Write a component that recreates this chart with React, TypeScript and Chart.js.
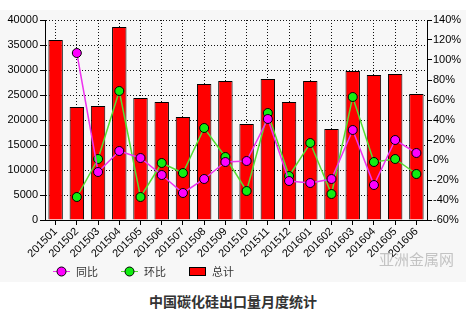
import React, { useEffect, useRef } from "react";
import { Chart, registerables } from "chart.js";

Chart.register(...registerables);

const months = [
  "201501", "201502", "201503", "201504", "201505", "201506",
  "201507", "201508", "201509", "201510", "201511", "201512",
  "201601", "201602", "201603", "201604", "201605", "201606",
];
// 总计 (tons)
const totals = [
  36000, 22600, 22800, 38600, 24400, 23600,
  20600, 27200, 27800, 19200, 28200, 23600,
  27800, 18200, 29800, 29000, 29200, 25200,
];
// 同比 (%)
const yoy = [
  null, 107, -12, 9, 2, -15,
  -33, -19, -2, -1, 41, -21,
  -23, -19, 30, -25, 20, 7,
];
// 环比 (%)
const mom = [
  null, -37, 1, 69, -37, -3,
  -13, 32, 3, -31, 47, -16,
  17, -34, 63, -2, 1, -14,
];
const leftMin = 0;
const leftMax = 40000;
const leftStep = 5000;
const rightMin = -60;
const rightMax = 140;
const rightStep = 20;

const seriesNames = ["同比", "环比", "总计"];
const chartTitle = "中国碳化硅出口量月度统计";
const watermark = "亚洲金属网";

const tickFont = { family: "'Liberation Sans', Arial, sans-serif", size: 11 };
const cjkFont = "'Noto Sans CJK SC', 'Noto Sans', sans-serif";

const legendPlugin = {
  id: "customLegend",
  afterDraw(chart: any) {
    const ctx = chart.ctx as CanvasRenderingContext2D;
    const y = chart.height - 11;
    let x = chart.chartArea.left + 8;
    chart.data.datasets.forEach((ds: any) => {
      ctx.save();
      if (ds.type === "line") {
        ctx.strokeStyle = ds.borderColor;
        ctx.lineWidth = 1;
        ctx.beginPath();
        ctx.moveTo(x, y + 0.5);
        ctx.lineTo(x + 17, y + 0.5);
        ctx.stroke();
        ctx.beginPath();
        ctx.arc(x + 8.5, y + 0.5, 4.5, 0, Math.PI * 2);
        ctx.fillStyle = ds.pointBackgroundColor;
        ctx.fill();
        ctx.strokeStyle = "#000";
        ctx.stroke();
      } else {
        ctx.fillStyle = ds.backgroundColor;
        ctx.fillRect(x, y - 4, 17, 9);
        ctx.strokeStyle = "#000";
        ctx.lineWidth = 1;
        ctx.strokeRect(x + 0.5, y - 3.5, 16, 8);
      }
      ctx.fillStyle = "#333";
      ctx.font = `11px ${cjkFont}`;
      ctx.textBaseline = "middle";
      ctx.fillText(ds.label, x + 23, y + 1);
      ctx.restore();
      x += 68;
    });
  },
};

export default function App() {
  const canvasRef = useRef<HTMLCanvasElement | null>(null);

  useEffect(() => {
    if (!canvasRef.current) return;
    const chart = new Chart(canvasRef.current, {
      type: "bar",
      data: {
        labels: months,
        datasets: [
          {
            type: "line",
            label: seriesNames[0],
            data: yoy,
            yAxisID: "y1",
            borderColor: "#ee33ee",
            borderWidth: 1.5,
            pointBackgroundColor: "#ff00ff",
            pointBorderColor: "#000",
            pointBorderWidth: 1,
            pointRadius: 4.5,
            tension: 0,
            order: 1,
          } as any,
          {
            type: "line",
            label: seriesNames[1],
            data: mom,
            yAxisID: "y1",
            borderColor: "#55dd33",
            borderWidth: 1.5,
            pointBackgroundColor: "#11ee11",
            pointBorderColor: "#000",
            pointBorderWidth: 1,
            pointRadius: 4.5,
            tension: 0,
            order: 2,
          } as any,
          {
            type: "bar",
            label: seriesNames[2],
            data: totals,
            yAxisID: "y",
            backgroundColor: "#ff0000",
            borderColor: "#000",
            borderWidth: 1,
            barPercentage: 0.68,
            categoryPercentage: 1,
            order: 3,
          } as any,
        ],
      },
      options: {
        responsive: false,
        animation: false,
        devicePixelRatio: 1,
        layout: { padding: { top: 10, left: 0, right: 0, bottom: 0 } },
        plugins: {
          legend: { display: false },
          tooltip: { enabled: false },
          title: { display: false },
        },
        scales: {
          x: {
            offset: true,
            grid: {
              offset: false,
              color: "#111",
              tickColor: "#000",
              tickLength: 5,
              tickBorderDash: [],
            } as any,
            border: { display: true, color: "#000", dash: [1, 2] },
            ticks: {
              color: "#000",
              font: tickFont,
              minRotation: 45,
              maxRotation: 45,
              padding: 0,
              autoSkip: false,
            },
            afterFit(scale: any) {
              scale.height = 62;
            },
          },
          y: {
            position: "left",
            min: leftMin,
            max: leftMax,
            grid: {
              color: "#111",
              tickColor: "#000",
              tickLength: 5,
              tickBorderDash: [],
            } as any,
            border: { display: true, color: "#000", dash: [1, 2] },
            ticks: {
              stepSize: leftStep,
              color: "#000",
              font: tickFont,
              padding: 2,
              callback: (v: any) => String(v),
            },
            afterFit(scale: any) {
              scale.width = 45;
            },
          },
          y1: {
            position: "right",
            min: rightMin,
            max: rightMax,
            grid: {
              drawOnChartArea: false,
              tickColor: "#000",
              tickLength: 5,
            },
            border: { display: true, color: "#000" },
            ticks: {
              stepSize: rightStep,
              color: "#000",
              font: tickFont,
              padding: 1,
              callback: (v: any) => `${v}%`,
            },
            afterFit(scale: any) {
              scale.width = 39;
            },
          },
        },
      },
      plugins: [legendPlugin],
    });
    return () => chart.destroy();
  }, []);

  return (
    <div
      style={{
        position: "absolute",
        left: 0,
        top: 0,
        width: 475,
        height: 318,
        background: "#fff",
        overflow: "hidden",
      }}
    >
      <div
        style={{
          position: "absolute",
          left: 0,
          top: 10,
          width: 466,
          height: 272,
          background: "#f7f7f7",
        }}
      >
        <canvas
          ref={canvasRef}
          width={466}
          height={272}
          style={{ width: 466, height: 272, display: "block" }}
        />
        <div
          style={{
            position: "absolute",
            left: 379,
            top: 238,
            fontFamily: cjkFont,
            fontSize: 15,
            color: "rgba(160,160,160,0.6)",
            pointerEvents: "none",
            whiteSpace: "nowrap",
          }}
        >
          {watermark}
        </div>
      </div>
      <div
        style={{
          position: "absolute",
          left: 0,
          width: 466,
          top: 291,
          textAlign: "center",
          fontFamily: cjkFont,
          fontWeight: "bold",
          fontSize: 14,
          color: "#333",
          lineHeight: "20px",
        }}
      >
        {chartTitle}
      </div>
    </div>
  );
}
